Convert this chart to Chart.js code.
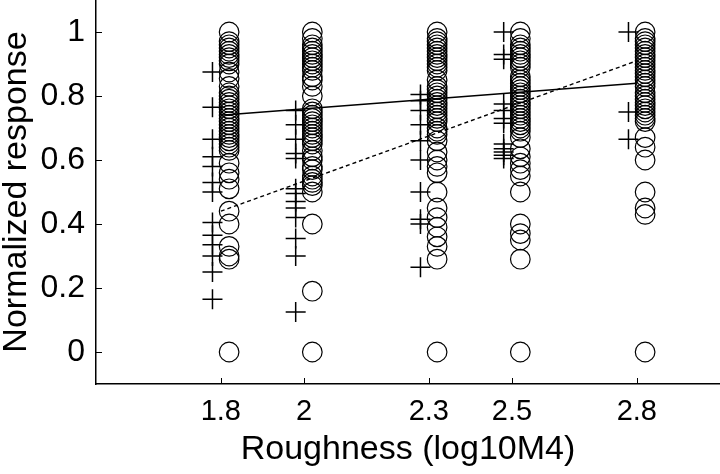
<!DOCTYPE html>
<html>
<head>
<meta charset="utf-8">
<script src="https://cdn.jsdelivr.net/npm/chart.js@4/dist/chart.umd.min.js"></script>
<style>
  html, body { margin: 0; padding: 0; background: #fff; }
  canvas { display: block; }
</style>
</head>
<body>
<canvas id="chart" width="720" height="474"></canvas>
<script>
const X_TICKS = [1.8, 2, 2.3, 2.5, 2.8];
const Y_TICKS = [0, 0.2, 0.4, 0.6, 0.8, 1];
const X_TITLE = 'Roughness (log10M4)';
const Y_TITLE = 'Normalized response';

// each roughness group: circles sit a little right of the tick, crosses a little left
const CIRCLE_X = [1.82, 2.02, 2.32, 2.52, 2.82];
const PLUS_X = [1.78, 1.98, 2.28, 2.48, 2.78];

const CIRCLE_Y = [
  [1.0, 0.97, 0.96, 0.95, 0.94, 0.93, 0.92, 0.91, 0.90, 0.875, 0.855, 0.83, 0.81, 0.80, 0.79, 0.78, 0.77, 0.76, 0.75, 0.74, 0.73, 0.72, 0.71, 0.70, 0.69, 0.68, 0.67, 0.66, 0.65, 0.64, 0.63, 0.59, 0.56, 0.54, 0.51, 0.44, 0.40, 0.33, 0.30, 0.29, 0],
  [1.0, 0.98, 0.96, 0.95, 0.94, 0.93, 0.92, 0.91, 0.90, 0.89, 0.88, 0.86, 0.85, 0.83, 0.80, 0.76, 0.75, 0.74, 0.73, 0.72, 0.71, 0.70, 0.69, 0.68, 0.67, 0.66, 0.65, 0.63, 0.61, 0.60, 0.58, 0.57, 0.55, 0.54, 0.53, 0.52, 0.50, 0.40, 0.19, 0],
  [1.0, 0.98, 0.97, 0.96, 0.95, 0.94, 0.93, 0.92, 0.91, 0.90, 0.89, 0.88, 0.85, 0.83, 0.82, 0.81, 0.80, 0.79, 0.78, 0.77, 0.76, 0.75, 0.74, 0.73, 0.72, 0.70, 0.69, 0.68, 0.66, 0.625, 0.60, 0.58, 0.56, 0.50, 0.45, 0.42, 0.39, 0.36, 0.33, 0.29, 0],
  [1.0, 0.98, 0.96, 0.95, 0.94, 0.93, 0.92, 0.91, 0.90, 0.89, 0.86, 0.85, 0.84, 0.83, 0.82, 0.81, 0.80, 0.79, 0.78, 0.77, 0.76, 0.75, 0.74, 0.73, 0.72, 0.71, 0.70, 0.69, 0.67, 0.635, 0.61, 0.59, 0.57, 0.55, 0.50, 0.40, 0.37, 0.35, 0.29, 0],
  [1.0, 0.98, 0.97, 0.96, 0.95, 0.94, 0.93, 0.92, 0.91, 0.90, 0.89, 0.88, 0.87, 0.86, 0.85, 0.84, 0.83, 0.81, 0.80, 0.79, 0.78, 0.77, 0.76, 0.75, 0.74, 0.73, 0.72, 0.67, 0.64, 0.60, 0.50, 0.45, 0.43, 0],
];

const PLUS_Y = [
  [0.875, 0.765, 0.665, 0.61, 0.58, 0.53, 0.50, 0.405, 0.365, 0.335, 0.30, 0.25, 0.165],
  [0.755, 0.71, 0.665, 0.62, 0.605, 0.51, 0.495, 0.47, 0.45, 0.42, 0.355, 0.30, 0.125],
  [0.805, 0.785, 0.755, 0.71, 0.66, 0.60, 0.50, 0.415, 0.40, 0.265],
  [1.0, 0.93, 0.915, 0.775, 0.755, 0.73, 0.715, 0.65, 0.635, 0.625, 0.615, 0.605],
  [1.0, 0.75, 0.665],
];

// fitted lines: solid for circles, dashed for crosses
const FIT_X = [1.8, 2.8];
const SOLID_FIT_Y = [0.74, 0.84];
const DASHED_FIT_Y = [0.44, 0.91];

const FONT = "'Liberation Sans', Arial, sans-serif";

const points = (xs, ys) => xs.flatMap((x, i) => ys[i].map(y => ({ x, y })));
const fitLine = (ys) => FIT_X.map((x, i) => ({ x, y: ys[i] }));

// matlab-style ticks pointing into the plot
const innerTicks = {
  id: 'innerTicks',
  afterDraw(chart) {
    const { ctx, chartArea, scales: { x, y } } = chart;
    ctx.save();
    ctx.strokeStyle = '#000';
    ctx.lineWidth = 1;
    for (const v of X_TICKS) {
      const px = Math.round(x.getPixelForValue(v)) + 0.5;
      ctx.beginPath();
      ctx.moveTo(px, chartArea.bottom);
      ctx.lineTo(px, chartArea.bottom - 6);
      ctx.stroke();
    }
    for (const v of Y_TICKS) {
      const py = Math.round(y.getPixelForValue(v)) + 0.5;
      ctx.beginPath();
      ctx.moveTo(chartArea.left, py);
      ctx.lineTo(chartArea.left + 6, py);
      ctx.stroke();
    }
    ctx.restore();
  },
};

new Chart(document.getElementById('chart'), {
  type: 'scatter',
  data: {
    datasets: [
      {
        label: 'circles',
        data: points(CIRCLE_X, CIRCLE_Y),
        pointStyle: 'circle',
        pointRadius: 9.8,
        borderWidth: 1.2,
        borderColor: '#000',
        backgroundColor: 'rgba(0,0,0,0)',
      },
      {
        label: 'crosses',
        data: points(PLUS_X, PLUS_Y),
        pointStyle: 'cross',
        pointRadius: 10,
        borderWidth: 1.5,
        borderColor: '#000',
      },
      {
        label: 'solid fit',
        data: fitLine(SOLID_FIT_Y),
        showLine: true,
        pointRadius: 0,
        borderColor: '#000',
        borderWidth: 1.4,
      },
      {
        label: 'dashed fit',
        data: fitLine(DASHED_FIT_Y),
        showLine: true,
        pointRadius: 0,
        borderColor: '#000',
        borderWidth: 1.4,
        borderDash: [4, 3],
      },
    ],
  },
  options: {
    responsive: false,
    animation: false,
    devicePixelRatio: 1,
    layout: { padding: 0, autoPadding: false },
    plugins: { legend: { display: false }, tooltip: { enabled: false } },
    scales: {
      x: {
        type: 'linear',
        min: 1.5,
        max: 3.0,
        afterBuildTicks: s => { s.ticks = X_TICKS.map(value => ({ value })); },
        afterFit: s => { s.height = 90; s.paddingLeft = 0; s.paddingRight = 0; },
        grid: { display: false, drawTicks: false },
        border: { color: '#000', width: 1.5 },
        ticks: {
          color: '#000', padding: 11, maxRotation: 0, autoSkip: false,
          font: { family: FONT, size: 29 },
          callback: v => String(v),
        },
        title: {
          display: true, text: X_TITLE, color: '#000',
          font: { family: FONT, size: 34 }, padding: { top: 0, bottom: 4 },
        },
      },
      y: {
        type: 'linear',
        min: -0.1,
        max: 1.1,
        afterBuildTicks: s => { s.ticks = Y_TICKS.map(value => ({ value })); },
        afterFit: s => { s.width = 96; s.paddingTop = 0; s.paddingBottom = 0; },
        grid: { display: false, drawTicks: false },
        border: { color: '#000', width: 1.5 },
        ticks: {
          color: '#000', padding: 11,
          font: { family: FONT, size: 32 },
          callback: v => String(v),
        },
        title: {
          display: true, text: Y_TITLE, color: '#000',
          font: { family: FONT, size: 34, lineHeight: 1 }, padding: { top: 0, bottom: 0 },
        },
      },
    },
  },
  plugins: [innerTicks],
});
</script>
</body>
</html>
